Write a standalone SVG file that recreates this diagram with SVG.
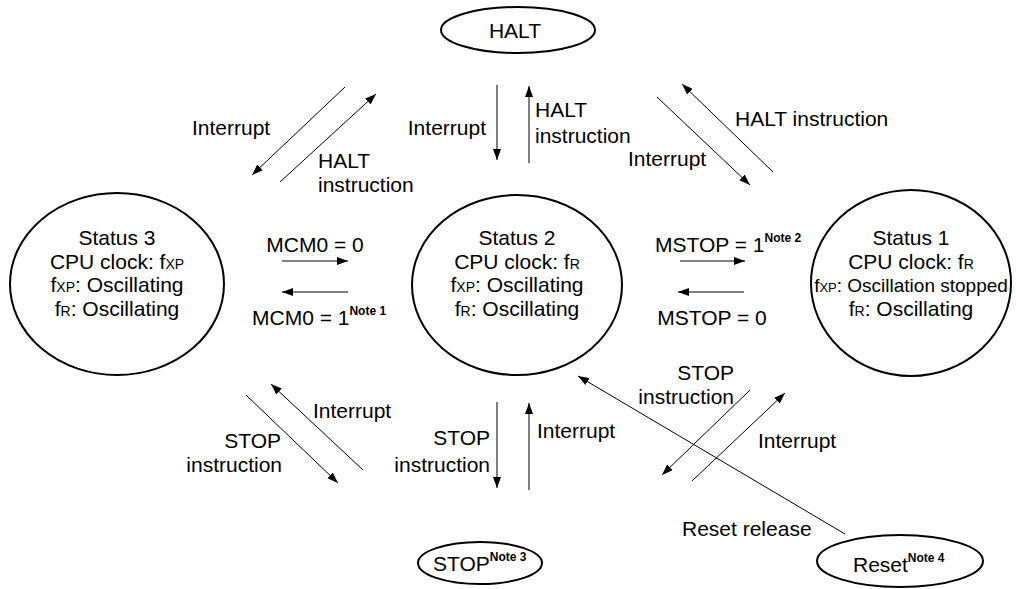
<svg xmlns="http://www.w3.org/2000/svg" width="1016" height="589" viewBox="0 0 1016 589">
<style>
text{font-family:"Liberation Sans",Arial,sans-serif;font-size:21px;fill:#000}
.c{text-anchor:middle}
.e{text-anchor:end}
.sm{font-size:14px}
.n{font-size:12px;font-weight:bold}
.tight{font-size:19px}
.tight .sm{font-size:13px}
.node{fill:#fff;stroke:#000;stroke-width:2}
.ln{stroke:#000;stroke-width:1;fill:none;marker-end:url(#ah)}
</style>
<defs>
<marker id="ah" markerUnits="userSpaceOnUse" markerWidth="11" markerHeight="8" refX="11" refY="4" orient="auto">
<path d="M0,0 L11,4 L0,8 z" fill="#000"/>
</marker>
</defs>
<rect width="1016" height="589" fill="#fff"/>
<g id="connectors">
<line class="ln" x1="345" y1="87" x2="252" y2="175"/>
<line class="ln" x1="280" y1="182" x2="376" y2="94"/>
<line class="ln" x1="497" y1="85" x2="497" y2="160"/>
<line class="ln" x1="529" y1="163" x2="529" y2="86"/>
<line class="ln" x1="657" y1="97" x2="750" y2="185"/>
<line class="ln" x1="773" y1="172" x2="682" y2="84"/>
<line class="ln" x1="282" y1="261" x2="348" y2="261"/>
<line class="ln" x1="348" y1="292" x2="282" y2="292"/>
<line class="ln" x1="680" y1="261" x2="745" y2="261"/>
<line class="ln" x1="744" y1="292" x2="678" y2="292"/>
<line class="ln" x1="246" y1="395" x2="338" y2="483"/>
<line class="ln" x1="363" y1="470" x2="271" y2="384"/>
<line class="ln" x1="497" y1="402" x2="497" y2="488"/>
<line class="ln" x1="529" y1="490" x2="529" y2="403"/>
<line class="ln" x1="750" y1="390" x2="662" y2="475"/>
<line class="ln" x1="692" y1="481" x2="785" y2="393"/>
<line class="ln" x1="845" y1="534" x2="578" y2="376"/>
</g>
<g id="labels">
<text x="192" y="135">Interrupt</text>
<text x="318" y="168">HALT</text>
<text x="318" y="192">instruction</text>
<text class="e" x="486" y="135">Interrupt</text>
<text x="535" y="117">HALT</text>
<text x="535" y="143">instruction</text>
<text x="735" y="126">HALT instruction</text>
<text x="628" y="166">Interrupt</text>
<text class="c" x="315" y="252">MCM0 = 0</text>
<text x="252" y="325">MCM0 = 1<tspan class="n" dy="-10">Note 1</tspan></text>
<text x="655" y="252">MSTOP = 1<tspan class="n" dy="-10">Note 2</tspan></text>
<text class="c" x="712" y="325">MSTOP = 0</text>
<text x="313" y="418">Interrupt</text>
<text class="e" x="281" y="448">STOP</text>
<text class="e" x="282" y="472">instruction</text>
<text class="e" x="490" y="445">STOP</text>
<text class="e" x="490" y="472">instruction</text>
<text x="537" y="438">Interrupt</text>
<text class="e" x="734" y="380">STOP</text>
<text class="e" x="734" y="404">instruction</text>
<text x="758" y="448">Interrupt</text>
<text x="682" y="536">Reset release</text>
</g>
<g id="halt">
<ellipse class="node" cx="518" cy="30" rx="77" ry="23"/>
<text class="c" x="515" y="38">HALT</text>
</g>
<g id="status3">
<ellipse class="node" cx="117" cy="284" rx="107" ry="91"/>
<text class="c" x="117" y="245">Status 3</text>
<text class="c" x="117" y="268.5">CPU clock: f<tspan class="sm">XP</tspan></text>
<text class="c" x="117" y="292">f<tspan class="sm">XP</tspan>: Oscillating</text>
<text class="c" x="117" y="315.5">f<tspan class="sm">R</tspan>: Oscillating</text>
</g>
<g id="status2">
<ellipse class="node" cx="517" cy="285" rx="105" ry="90"/>
<text class="c" x="517" y="245">Status 2</text>
<text class="c" x="517" y="268.5">CPU clock: f<tspan class="sm">R</tspan></text>
<text class="c" x="517" y="292">f<tspan class="sm">XP</tspan>: Oscillating</text>
<text class="c" x="517" y="315.5">f<tspan class="sm">R</tspan>: Oscillating</text>
</g>
<g id="status1">
<ellipse class="node" cx="911" cy="283" rx="100" ry="93"/>
<text class="c" x="911" y="245">Status 1</text>
<text class="c" x="911" y="268.5">CPU clock: f<tspan class="sm">R</tspan></text>
<text class="c tight" x="911" y="292">f<tspan class="sm">XP</tspan>: Oscillation stopped</text>
<text class="c" x="911" y="315.5">f<tspan class="sm">R</tspan>: Oscillating</text>
</g>
<g id="stop">
<ellipse class="node" cx="480" cy="563" rx="62" ry="21"/>
<text x="433" y="571">STOP<tspan class="n" dy="-10">Note 3</tspan></text>
</g>
<g id="reset">
<ellipse class="node" cx="900" cy="561" rx="83" ry="26"/>
<text x="853" y="572">Reset<tspan class="n" dy="-10">Note 4</tspan></text>
</g>
</svg>
